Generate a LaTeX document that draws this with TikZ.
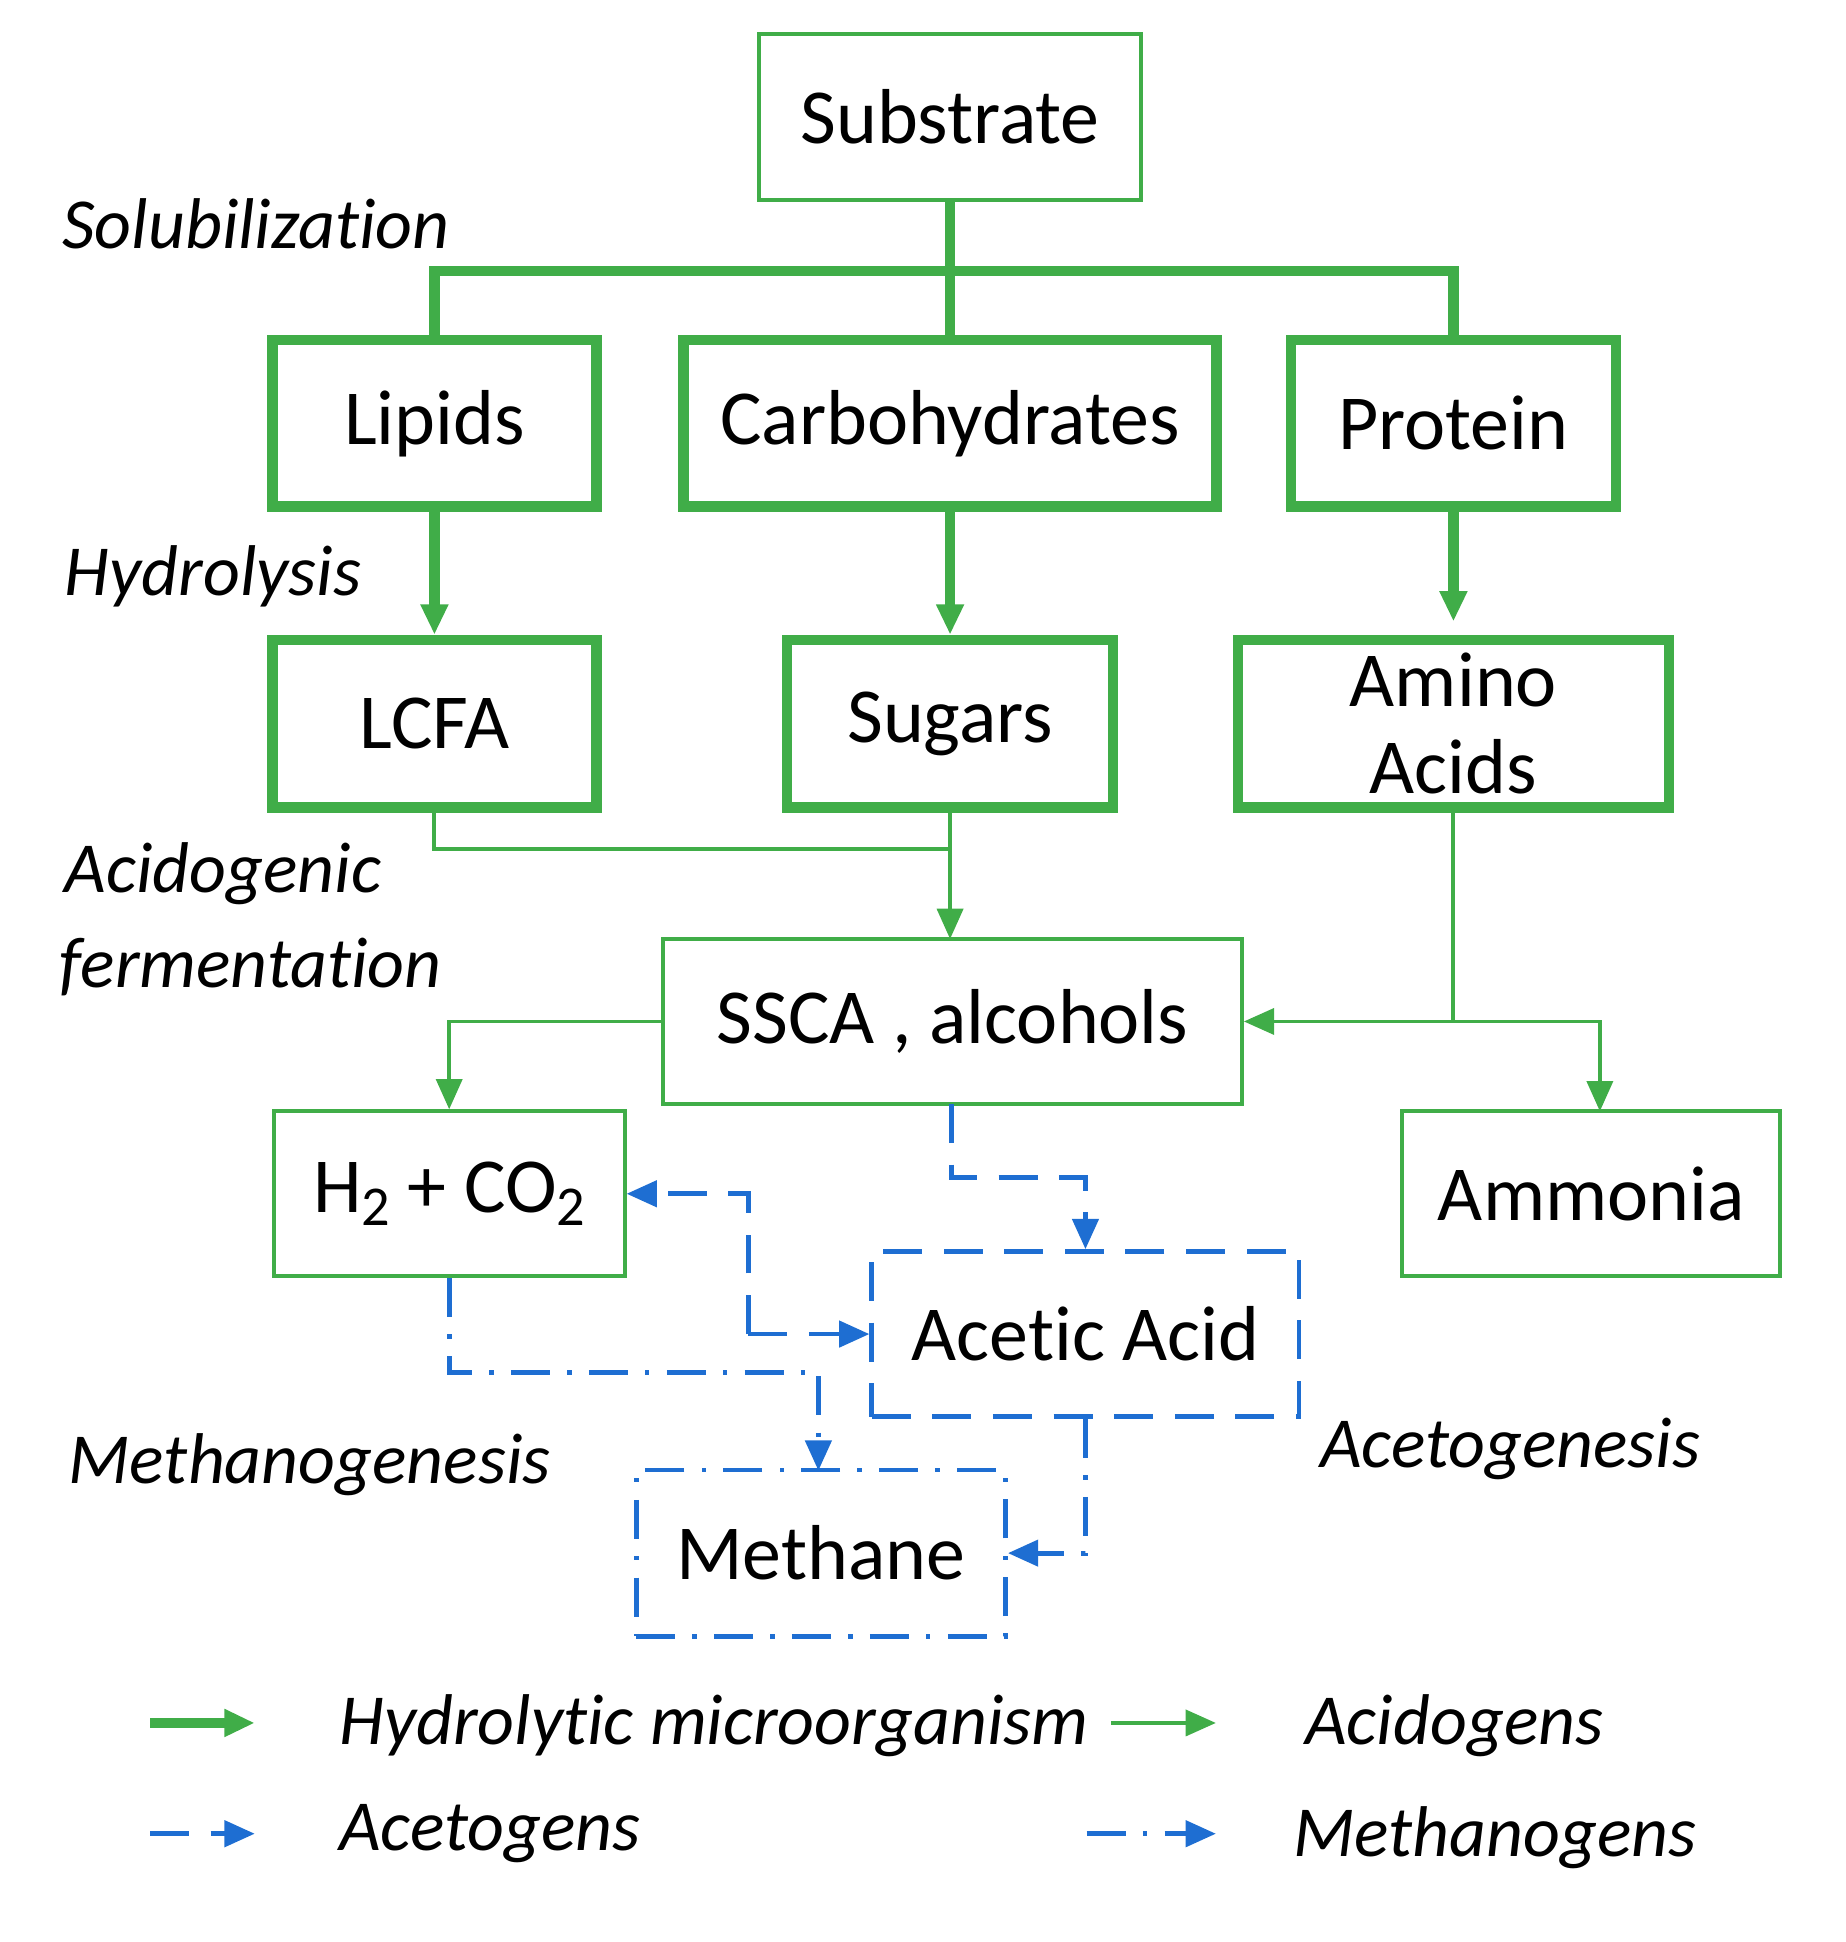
\documentclass[tikz,border=0pt]{standalone}
\usepackage{fontspec}
\setmainfont{Carlito}[Ligatures={NoCommon,NoRare}]
\usetikzlibrary{arrows.meta}
\definecolor{gr}{RGB}{64,173,72}
\definecolor{bl}{RGB}{30,110,210}
\newcommand{\sbs}[1]{\raisebox{-0.35ex}{\fontsize{13}{15}\selectfont #1}}
\begin{document}
\begin{tikzpicture}[x=0.01cm,y=-0.01cm,
  lab/.style={font=\fontsize{18}{22}\selectfont},
  itl/.style={font=\fontsize{16.6}{20}\selectfont\itshape,anchor=west,inner sep=0},
  tk/.style={draw=gr,line width=2.4pt},
  tn/.style={draw=gr,line width=0.9pt},
  ds/.style={draw=bl,line width=1.1pt,dash pattern=on 9pt off 5pt},
  dd/.style={draw=bl,line width=1.1pt,dash pattern=on 9pt off 4pt on 1pt off 4pt},
  tip/.style={-{Triangle[length=7pt,width=6pt]}}]
\useasboundingbox (0,0) rectangle (1500,1578);
\node[lab,tn,minimum width=3.1cm,minimum height=1.35cm] (sub) at (772,95) {Substrate};
\node[lab,tk,minimum width=2.63cm,minimum height=1.35cm] (lip) at (353,344) {Lipids};
\node[lab,tk,minimum width=4.33cm,minimum height=1.35cm] (carb) at (772,344) {Carbohydrates};
\node[lab,tk,minimum width=2.64cm,minimum height=1.35cm] (prot) at (1181,344) {Protein};
\node[lab,tk,minimum width=2.63cm,minimum height=1.36cm] (lcfa) at (353,588) {LCFA};
\node[lab,tk,minimum width=2.65cm,minimum height=1.36cm] (sug) at (772,588) {Sugars};
\node[lab,tk,minimum width=3.5cm,minimum height=1.36cm,align=center,inner sep=0] (amino) at (1181,588) {Amino\\[-2pt]Acids};
\node[lab,tn,minimum width=4.7cm,minimum height=1.34cm] (ssca) at (774,830) {SSCA , alcohols};
\node[lab,tn,minimum width=2.85cm,minimum height=1.34cm] (h2) at (365,970) {H\sbs{2} + CO\sbs{2}};
\node[lab,tn,minimum width=3.07cm,minimum height=1.34cm] (amm) at (1293,970) {Ammonia};
\node[lab,ds,minimum width=3.47cm,minimum height=1.34cm] (ace) at (882,1084) {Acetic Acid};
\node[lab,dd,minimum width=3.0cm,minimum height=1.35cm] (meth) at (667,1262) {Methane};
% solubilization
\draw[tk] (sub.south) -- (carb.north);
\draw[tk] (lip.north) -- (353,220) -- (1181,220) -- (prot.north);
% hydrolysis
\draw[tk,tip] (lip.south) -- (lcfa.north);
\draw[tk,tip] (carb.south) -- (sug.north);
\draw[tk,tip] (prot.south) -- (1181,505);
% acidogens
\draw[tn] (lcfa.south) -- (353,690) -- (772,690);
\draw[tn,tip] (sug.south) -- (772,763);
\coordinate (aj) at (1181,830);
\draw[tn,tip] (amino.south) -- (aj) -- (ssca.east);
\draw[tn,tip] (aj) -- (1300,830) -- (1300,903);
\draw[tn,tip] (ssca.west) -- (365,830) -- (h2.north);
% acetogens
\draw[ds,tip] (773,897) -- (773,957) -- (882,957) -- (ace.north);
\draw[ds,tip] (608,1084) -- (608,970) -- (h2.east);
\draw[ds,tip] (608,1084) -- (ace.west);
% methanogens
\draw[dd,tip] (h2.south) -- (365,1115) -- (665,1115) -- (665,1195);
\draw[dd,tip] (ace.south) -- (882,1262) -- (meth.east);
% stage labels
\node[itl] (t1) at (50,182) {Solubilization};
\node[itl] (t2) at (52,468) {Hydrolysis};
\node[itl] (t3) at (52,710) {Acidogenic};
\node[itl] (t4) at (48,786) {fermentation};
\node[itl] (t5) at (55,1190) {Methanogenesis};
\node[itl] (t6) at (1072,1177) {Acetogenesis};
% legend
\coordinate (l1a) at (122,1400); \coordinate (l1b) at (207,1400);
\draw[tk,tip] (l1a) -- (l1b);
\node[itl] (g1) at (275,1402) {Hydrolytic microorganism};
\coordinate (l2a) at (903,1400); \coordinate (l2b) at (988,1400);
\draw[tn,tip] (l2a) -- (l2b);
\node[itl] (g2) at (1060,1402) {Acidogens};
\coordinate (l3a) at (122,1490); \coordinate (l3b) at (207,1490);
\draw[ds,tip] (l3a) -- (l3b);
\node[itl] (g3) at (275,1490) {Acetogens};
\coordinate (l4a) at (883,1490); \coordinate (l4b) at (988,1490);
\draw[dd,tip] (l4a) -- (l4b);
\node[itl] (g4) at (1050,1493) {Methanogens};
\end{tikzpicture}
\end{document}
